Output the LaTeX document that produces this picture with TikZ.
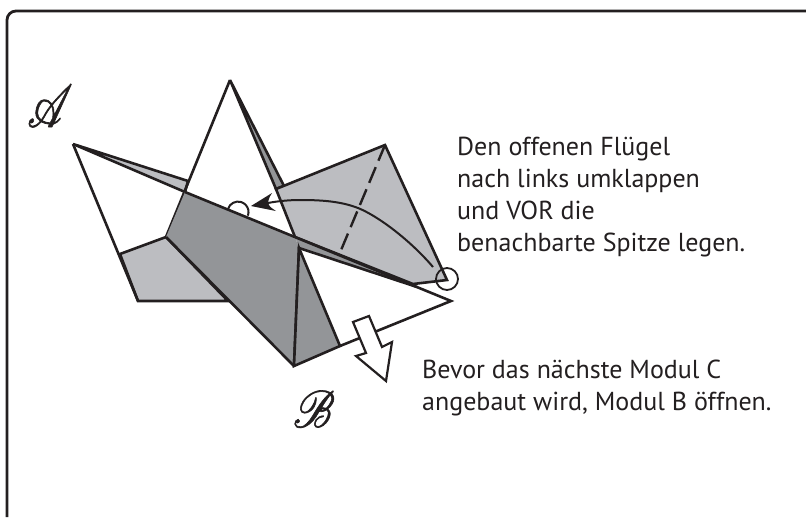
\documentclass[tikz,border=0pt]{standalone}
\usepackage{fontspec}
\usepackage{mathrsfs}
\usepackage{graphicx}
\setmainfont{PT Sans}
\definecolor{lightfold}{RGB}{188,189,193}
\definecolor{darkfold}{RGB}{147,149,152}
\definecolor{ink}{RGB}{35,31,32}
\newcommand{\heavyglyph}[1]{\special{pdf:code 2 Tr 0.12 w}#1\special{pdf:code 0 Tr}}
\tikzset{
  foldline/.style={draw=ink,line width=2.6pt,line join=miter},
  lightface/.style={fill=lightfold,foldline},
  darkface/.style={fill=darkfold,foldline},
  caption/.style={anchor=north west,inner sep=0pt,align=left,text=ink,font=\fontsize{26}{32}\selectfont},
  letter/.style={inner sep=0pt,text=ink},
}
\begin{document}
\begin{tikzpicture}[x=1pt,y=-1pt]
\useasboundingbox (0,0) rectangle (806,517);
\draw[ink,line width=2.8pt,rounded corners=9pt] (7,517) -- (7,11) -- (806,11);
% named folding points
\coordinate (wingL) at (73,144);
\coordinate (top) at (230,80);
\coordinate (slivA) at (188,181);
\coordinate (slivB) at (185,192);
\coordinate (kneeL) at (166,237);
\coordinate (mid) at (295,237);
\coordinate (inner) at (299,248);
\coordinate (tipR) at (451,301);
\coordinate (merge) at (417,287);
\coordinate (bott) at (294,366);
\coordinate (lowR) at (340,346);
\coordinate (lgA) at (120,254);
\coordinate (lgB) at (138,301);
\coordinate (lgC) at (228,301);
\coordinate (sqA) at (276,189);
\coordinate (sqB) at (385,145);
\coordinate (sqC) at (447,280);
\coordinate (sqD) at (413,284);
\coordinate (sqE) at (284,186);
\coordinate (dashEnd) at (339,255);
% faces
\path[lightface] (lgA) -- (kneeL) -- (lgC) -- (lgB) -- cycle;
\path[foldline] (wingL) -- (lgB);
\path[lightface] (wingL) -- (slivA) -- (slivB) -- cycle;
\path[darkface] (top) -- (sqE) -- (sqA) -- cycle;
\path[lightface] (sqA) -- (sqB) -- (sqC) -- (sqD) -- (mid) -- cycle;
\path[foldline] (top) -- (kneeL);
\fill[darkfold] (mid) -- (merge) -- (inner) -- cycle;
\fill[darkfold] (slivB) -- (mid) -- (inner) -- (bott) -- (kneeL) -- cycle;
\path[foldline] (slivB) -- (tipR) -- (lowR);
\path[foldline] (kneeL) -- (bott);
\path[foldline] (merge) -- (inner) -- (bott);
\path[darkface] (inner) -- (lowR) -- (bott) -- cycle;
\draw[ink,line width=2.4pt,dash pattern=on 17pt off 7pt] (sqB) -- (dashEnd);
% circles
\node[draw=ink,line width=1.8pt,circle,minimum size=22pt,inner sep=0pt] (ringR) at (447,279) {};
\draw[ink,line width=2pt] (228,209) arc[start angle=197,end angle=380,radius=10.5];
% fold arrow
\coordinate (arrowStart) at (433,267);
\coordinate (arrowTip) at (251,206);
\draw[ink,line width=2pt] (arrowStart) .. controls (410,240) and (378,216) .. (358,208) .. controls (340,201) and (320,200) .. (300,200) .. controls (290,200) and (278,201) .. (268,203);
\fill[ink] (arrowTip) -- (272,193) .. controls (269,198) .. (268,203) .. controls (270,207) .. (276,211) -- cycle;
% open arrow
\draw[ink,line width=2.2pt,fill=white,line join=miter] (353,322) -- (369,316) -- (382,347) -- (392,342) -- (386,381) -- (356,356) -- (366,353) -- cycle;
% letters
\node[letter] (letA) at (50,106) {\scalebox{4.4}[6]{\heavyglyph{$\mathscr{A}$}}};
\node[letter] (letB) at (314,409) {\scalebox{4.4}[5.2]{\heavyglyph{$\mathscr{B}$}}};
% captions
\node[caption] (cap1) at (457,136.5) {Den offenen Flügel\\nach links umklappen\\und VOR die\\benachbarte Spitze legen.};
\node[caption] (cap2) at (422,359.5) {Bevor das nächste Modul C\\angebaut wird, Modul B öffnen.};
\end{tikzpicture}
\end{document}
